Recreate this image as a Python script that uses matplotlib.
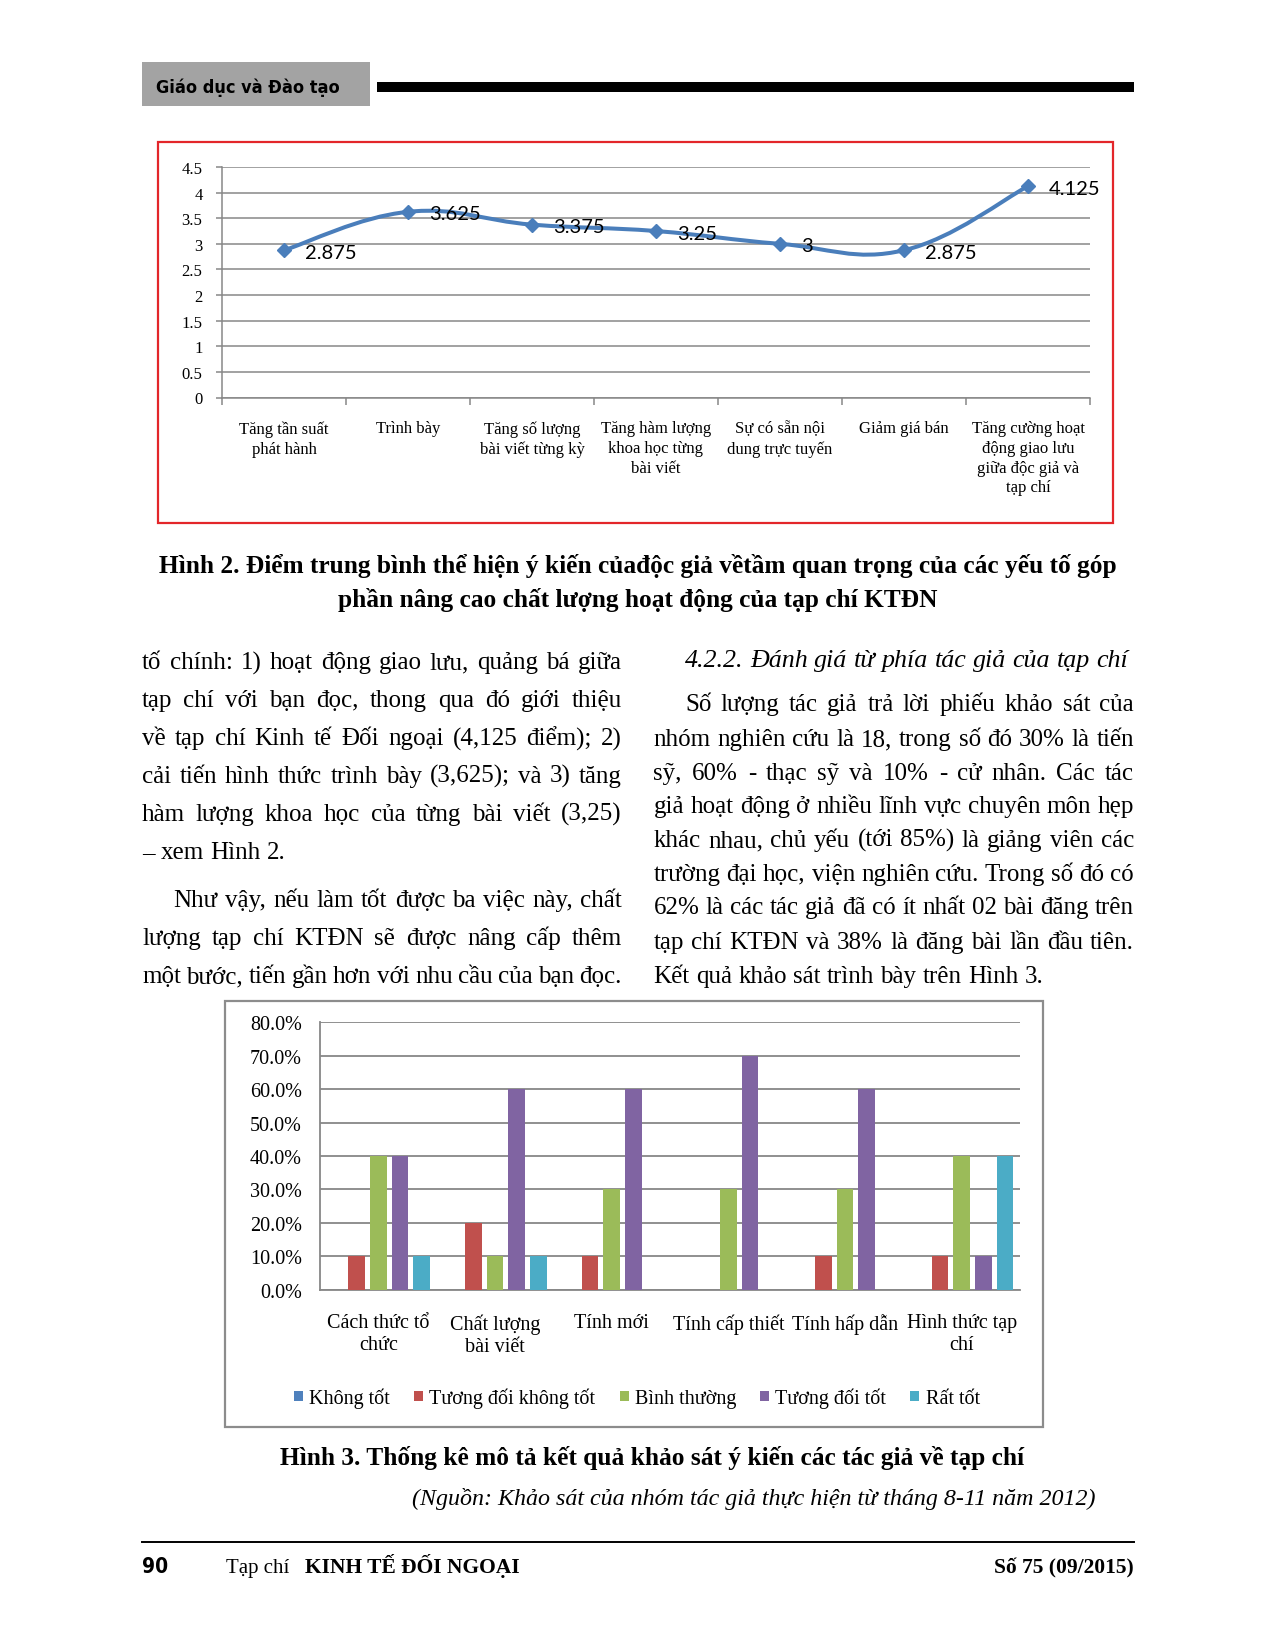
import numpy as np
import matplotlib
matplotlib.use("Agg")
import matplotlib.pyplot as plt
from matplotlib.path import Path
from matplotlib.patches import PathPatch, Rectangle
from matplotlib.ticker import PercentFormatter

W, H = 1274, 1649
SERIF = ["Liberation Serif", "DejaVu Serif"]
NARROW = ["Liberation Sans Narrow", "DejaVu Sans"]

# ---- Hình 2: điểm trung bình
factors = ["Tăng tần suất\nphát hành", "Trình bày", "Tăng số lượng\nbài viết từng kỳ",
           "Tăng hàm lượng\nkhoa học từng\nbài viết", "Sự có sẵn nội\ndung trực tuyến",
           "Giảm giá bán", "Tăng cường hoạt\nđộng giao lưu\ngiữa độc giả và\ntạp chí"]
scores = [2.875, 3.625, 3.375, 3.25, 3, 2.875, 4.125]

# ---- Hình 3: ý kiến các tác giả
criteria = ["Cách thức tổ\nchức", "Chất lượng\nbài viết", "Tính mới",
            "Tính cấp thiết", "Tính hấp dẫn", "Hình thức tạp\nchí"]
levels = ["Không tốt", "Tương đối không tốt", "Bình thường", "Tương đối tốt", "Rất tốt"]
khong_tot = [0, 0, 0, 0, 0, 0]
tuong_doi_khong_tot = [0.10, 0.20, 0.10, 0, 0.10, 0.10]
binh_thuong = [0.40, 0.10, 0.30, 0.30, 0.30, 0.40]
tuong_doi_tot = [0.40, 0.60, 0.60, 0.70, 0.60, 0.10]
rat_tot = [0.10, 0.10, 0, 0, 0, 0.40]
level_colors = ["#4F81BD", "#C0504D", "#9BBB59", "#8064A2", "#4BACC6"]

# ---- văn bản trang
caption2 = ["Hình 2. Điểm trung bình thể hiện ý kiến củađộc giả vềtầm quan trọng của các yếu tố góp",
            "phần nâng cao chất lượng hoạt động của tạp chí KTĐN"]
left_par1 = ["tố chính: 1) hoạt động giao lưu, quảng bá giữa",
             "tạp chí với bạn đọc, thong qua đó giới thiệu",
             "về tạp chí Kinh tế Đối ngoại (4,125 điểm); 2)",
             "cải tiến hình thức trình bày (3,625); và 3) tăng",
             "hàm lượng khoa học của từng bài viết (3,25)",
             "– xem Hình 2."]
left_par2 = ["Như vậy, nếu làm tốt được ba việc này, chất",
             "lượng tạp chí KTĐN sẽ được nâng cấp thêm",
             "một bước, tiến gần hơn với nhu cầu của bạn đọc."]
right_heading = "4.2.2. Đánh giá từ phía tác giả của tạp chí"
right_par = ["Số lượng tác giả trả lời phiếu khảo sát của",
             "nhóm nghiên cứu là 18, trong số đó 30% là tiến",
             "sỹ, 60% - thạc sỹ và 10% - cử nhân. Các tác",
             "giả hoạt động ở nhiều lĩnh vực chuyên môn hẹp",
             "khác nhau, chủ yếu (tới 85%) là giảng viên các",
             "trường đại học, viện nghiên cứu. Trong số đó có",
             "62% là các tác giả đã có ít nhất 02 bài đăng trên",
             "tạp chí KTĐN và 38% là đăng bài lần đầu tiên.",
             "Kết quả khảo sát trình bày trên Hình 3."]
caption3 = "Hình 3. Thống kê mô tả kết quả khảo sát ý kiến các tác giả về tạp chí"
source = "(Nguồn: Khảo sát của nhóm tác giả thực hiện từ tháng 8-11 năm 2012)"

fig = plt.figure(figsize=(W / 100, H / 100), dpi=100)
bg = fig.add_axes([0, 0, 1, 1], zorder=0)
bg.set_xlim(0, W)
bg.set_ylim(H, 0)
bg.axis("off")
renderer = fig.canvas.get_renderer()


def panel(x0, y0, x1, y1):
    ax = fig.add_axes([x0 / W, 1 - y1 / H, (x1 - x0) / W, (y1 - y0) / H], zorder=2)
    ax.set_facecolor("none")
    return ax


def put_line(text, x0, x1, yb, justify=True, size=18, style="normal"):
    words = text.split(" ")
    objs = [bg.text(0, yb, w, fontsize=size, family=SERIF, style=style,
                    va="baseline", ha="left") for w in words]
    widths = [o.get_window_extent(renderer).width for o in objs]
    if justify and len(words) > 1:
        gap = (x1 - x0 - sum(widths)) / (len(words) - 1)
    else:
        gap = size * 100 / 72 * 0.25
    x = x0
    for o, w in zip(objs, widths):
        o.set_x(x)
        x += w + gap


def smooth_path(xs, ys, t=0.2):
    # đường cong kiểu "smoothed line" của Excel
    p = np.column_stack([xs, ys]).astype(float)
    n = len(p)
    verts, codes = [p[0]], [Path.MOVETO]
    for i in range(n - 1):
        p0, p1, p2, p3 = p[max(i - 1, 0)], p[i], p[i + 1], p[min(i + 2, n - 1)]
        verts += [p1 + (p2 - p0) * t, p2 - (p3 - p1) * t, p2]
        codes += [Path.CURVE4] * 3
    return Path(verts, codes)


# ---- đầu trang
bg.add_patch(Rectangle((142, 63), 228, 44, color="#A3A3A3", lw=0))
bg.text(156, 93, "Giáo dục và Đào tạo", fontsize=13, weight="bold", family=NARROW,
        stretch="condensed", va="baseline")
bg.add_patch(Rectangle((377, 83), 757, 10, color="black", lw=0))

# ---- Hình 2
bg.add_patch(Rectangle((158, 143), 955, 381, fill=False, edgecolor="#E3262A", lw=1.6))
ax1 = panel(222, 168, 1090, 398.5)
xs = np.arange(len(scores))
blue = "#4A7EBB"
ax1.add_patch(PathPatch(smooth_path(xs, scores), facecolor="none", edgecolor=blue,
                        lw=2.9, capstyle="round", joinstyle="round", zorder=3))
ax1.plot(xs, scores, ls="none", marker="D", ms=7.5, color=blue, zorder=4)
for x, v in zip(xs, scores):
    ax1.annotate(f"{v:g}", (x, v), xytext=(15, -5.5), textcoords="offset points",
                 va="baseline", ha="left", fontsize=14.5, family=["Lato", "DejaVu Sans"])
ax1.set_xlim(-0.5, 6.5)
ax1.set_ylim(0, 4.5)
ax1.set_yticks(np.arange(0, 4.51, 0.5))
ax1.set_yticklabels([f"{v:g}" for v in np.arange(0, 4.51, 0.5)], family=SERIF, fontsize=12)
ax1.yaxis.grid(True, color="#878787", lw=1.1)
ax1.set_axisbelow(True)
ax1.set_xticks(xs)
ax1.set_xticklabels(factors, family=SERIF, fontsize=12, linespacing=1.3, va="top")
ax1.set_xticks(np.arange(-0.5, 7, 1), minor=True)
ax1.tick_params(axis="x", which="major", length=0, pad=16.5)
ax1.tick_params(axis="x", which="minor", length=5, color="#878787", width=1.1)
ax1.tick_params(axis="y", length=4, color="#878787", width=1.1, pad=10)
for s in ["top", "right"]:
    ax1.spines[s].set_visible(False)
for s in ["left", "bottom"]:
    ax1.spines[s].set_color("#878787")
    ax1.spines[s].set_linewidth(1.1)

for i, line in enumerate(caption2):
    bg.text(638, [573, 607][i], line, ha="center", va="baseline", fontsize=18.3,
            weight="bold", family=SERIF)

# ---- hai cột văn bản
Lx0, Lx1 = 142, 622
Rx0, Rx1 = 653.5, 1134
left_base = [669.5, 707.3, 745.2, 783, 821, 858.8]
for i, line in enumerate(left_par1):
    put_line(line, Lx0, Lx1, left_base[i], justify=i < len(left_par1) - 1)
for i, line in enumerate(left_par2):
    put_line(line, Lx0 + 31.5 if i == 0 else Lx0, Lx1, [907, 945, 983][i])

put_line(right_heading, Rx0 + 31.5, Rx1, 667, justify=False, style="italic", size=18.7)
right_base = [711.5, 746.5, 780, 813.5, 847, 880.7, 914.5, 949, 983]
for i, line in enumerate(right_par):
    put_line(line, Rx0 + 31.5 if i == 0 else Rx0, Rx1, right_base[i],
             justify=i < len(right_par) - 1)

# ---- Hình 3
bg.add_patch(Rectangle((225, 1002), 818, 426, fill=False, edgecolor="#8C8C8C", lw=1.6))
ax2 = panel(320, 1023.3, 1020, 1290.7)
cx = np.arange(len(criteria))
series = [khong_tot, tuong_doi_khong_tot, binh_thuong, tuong_doi_tot, rat_tot]
bars = []
for k, (vals, col, name) in enumerate(zip(series, level_colors, levels)):
    b = ax2.bar(cx + (k - 2) * 0.186, vals, width=0.143, color=col, label=name, zorder=3)
    bars.append(b)
ax2.set_xlim(-0.5, 5.5)
ax2.set_ylim(0, 0.8)
ax2.set_yticks(np.arange(0, 0.81, 0.1))
ax2.yaxis.set_major_formatter(PercentFormatter(xmax=1, decimals=1))
ax2.yaxis.grid(True, color="#878787", lw=1.3)
ax2.set_axisbelow(True)
ax2.set_xticks(cx)
ax2.set_xticklabels(criteria, family=SERIF, fontsize=14.5, linespacing=1.2, va="top")
for lab in ax2.get_yticklabels():
    lab.set_family(SERIF)
    lab.set_fontsize(14.5)
ax2.tick_params(axis="x", length=0, pad=17)
ax2.tick_params(axis="y", length=0, pad=13)
for s in ["top", "right"]:
    ax2.spines[s].set_visible(False)
for s in ["left", "bottom"]:
    ax2.spines[s].set_color("#878787")
    ax2.spines[s].set_linewidth(1.3)
fig.legend(handles=bars, labels=levels, loc="center", bbox_to_anchor=(637 / W, 1 - 1399 / H),
           ncol=5, frameon=False, handlelength=0.45, handleheight=0.45, handletextpad=0.3,
           columnspacing=1.2, prop={"family": SERIF, "size": 14.5})

bg.text(652, 1465, caption3, ha="center", va="baseline", fontsize=18.3, weight="bold", family=SERIF)
bg.text(1096, 1505, source, ha="right", va="baseline", fontsize=17.3, style="italic", family=SERIF)

# ---- chân trang
bg.plot([142, 1134], [1543, 1543], color="black", lw=1.4)
bg.text(142, 1573, "90", fontsize=15, weight="bold", family=NARROW, stretch="condensed",
        va="baseline")
bg.text(226, 1573, "Tạp chí", fontsize=15, family=SERIF, va="baseline")
bg.text(305, 1573, "KINH TẾ ĐỐI NGOẠI", fontsize=15.5, weight="bold", family=SERIF, va="baseline")
bg.text(1134, 1573, "Số 75 (09/2015)", fontsize=15.5, weight="bold", family=SERIF,
        va="baseline", ha="right")

fig.savefig("out.png", dpi=100)
